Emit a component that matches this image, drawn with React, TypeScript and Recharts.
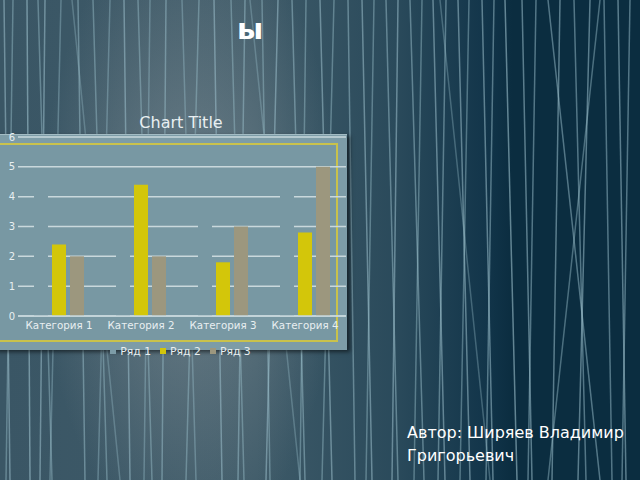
import React from "react";
import { BarChart, Bar, XAxis, YAxis, CartesianGrid, Legend } from "recharts";

// chart values (default spreadsheet demo data)
const categories = ["Категория 1", "Категория 2", "Категория 3", "Категория 4"];
const ryad1 = [4.3, 2.5, 3.5, 4.5];
const ryad2 = [2.4, 4.4, 1.8, 2.8];
const ryad3 = [2, 2, 3, 5];
const yTicks = [0, 1, 2, 3, 4, 5, 6];

const data = categories.map((name, i) => ({
  name,
  r1: ryad1[i],
  r2: ryad2[i],
  r3: ryad3[i],
}));

// background decoration: near-vertical streaks [xTop, xBottom, opacity]
const streaks: [number, number, number][] = [
  [4, 10, 0.45], [13, 6, 0.35], [27, 30, 0.5], [38, 52, 0.35], [45, 40, 0.45], [61, 50, 0.3],
  [78, 85, 0.4], [93, 107, 0.35], [110, 98, 0.3], [124, 130, 0.45], [138, 152, 0.35],
  [150, 144, 0.3], [166, 162, 0.4], [182, 196, 0.3], [199, 186, 0.35], [214, 222, 0.45],
  [231, 244, 0.35], [245, 238, 0.4], [262, 270, 0.35], [278, 266, 0.45], [292, 305, 0.4],
  [306, 300, 0.35], [320, 332, 0.45], [334, 322, 0.35], [348, 355, 0.4], [362, 372, 0.45],
  [374, 366, 0.35], [386, 398, 0.4], [398, 392, 0.45], [410, 424, 0.4], [422, 414, 0.35],
  [433, 445, 0.45], [446, 438, 0.4], [458, 470, 0.45], [469, 460, 0.35], [482, 493, 0.45],
  [494, 486, 0.4], [505, 517, 0.5], [522, 532, 0.45], [536, 528, 0.4], [548, 600, 0.4],
  [560, 552, 0.45], [574, 586, 0.4], [590, 578, 0.45], [604, 612, 0.4], [618, 626, 0.45],
  [630, 622, 0.4], [600, 548, 0.35], [72, 120, 0.25], [250, 300, 0.25], [440, 490, 0.25],
];

const PLOT_BG = "#7898a3";
const OUTER_BG = "#7d9ca7";
const TEXT = "#e8eff1";
const FONT = "'DejaVu Sans', sans-serif";

const colors = [PLOT_BG, "#d3c60a", "#9c977e"];

function LegendRow(props: any) {
  const items = props.payload || [];
  return (
    <div
      style={{
        display: "flex",
        justifyContent: "center",
        alignItems: "center",
        height: 14,
        fontSize: 10.8,
        fontFamily: FONT,
        color: TEXT,
        paddingLeft: 24,
      }}
    >
      {items.map((it: any, i: number) => (
        <span key={i} style={{ display: "flex", alignItems: "center", marginRight: 9 }}>
          <span
            style={{
              width: 6,
              height: 6,
              background: i === 0 ? OUTER_BG : it.color,
              marginRight: 4,
              display: "inline-block",
            }}
          />
          {it.value}
        </span>
      ))}
    </div>
  );
}

export default function App() {
  return (
    <div
      style={{
        position: "fixed",
        left: 0,
        top: 0,
        width: 640,
        height: 480,
        overflow: "hidden",
        fontFamily: FONT,
        background:
          "radial-gradient(ellipse 150px 320px at 190px 230px, rgba(150,160,165,0.55) 0%, rgba(150,160,165,0) 100%), linear-gradient(to right, #3a5665 0%, #3e5a68 40%, #2a4a5b 62%, #12354a 76%, #0b2d40 80%, #0b2d40 100%)",
      }}
    >
      <svg width={640} height={480} style={{ position: "absolute", left: 0, top: 0 }}>
        {streaks.map(([a, b, o], i) => (
          <line key={i} x1={a} y1={0} x2={b} y2={480} stroke="#9cc0cc" strokeOpacity={o + 0.1} strokeWidth={1.5} />
        ))}
      </svg>

      {/* slide title, last line */}
      <div
        style={{
          position: "absolute",
          left: 0,
          top: 12,
          width: 500,
          textAlign: "center",
          color: "#ffffff",
          fontWeight: "bold",
          fontSize: 29,
          lineHeight: "34px",
        }}
      >
        ы
      </div>

      <div
        style={{
          position: "absolute",
          left: 0,
          top: 113,
          width: 362,
          textAlign: "center",
          color: TEXT,
          fontSize: 16,
          lineHeight: "20px",
        }}
      >
        Chart Title
      </div>

      {/* chart area */}
      <div
        style={{
          position: "absolute",
          left: -6,
          top: 134,
          width: 353,
          height: 215,
          background: OUTER_BG,
          boxShadow: "3px 2px 4px rgba(0,0,0,0.55)",
          borderTop: "1px solid #a3bcc4",
        }}
      />
      <div
        style={{
          position: "absolute",
          left: -6,
          top: 143,
          width: 340,
          height: 195,
          background: PLOT_BG,
          border: "2px solid #c9c24c",
        }}
      />

      <div style={{ position: "absolute", left: 0, top: 0 }}>
        <BarChart
          width={360}
          height={360}
          data={data}
          margin={{ top: 137, right: 14, left: 0, bottom: 2 }}
          barSize={14}
          barGap={4}
        >
          <CartesianGrid vertical={false} stroke="#c9d8dc" strokeWidth={1.5} />
          <XAxis
            dataKey="name"
            height={28}
            tickLine={false}
            axisLine={{ stroke: "#c9d8dc", strokeWidth: 1.5 }}
            tick={{ fill: TEXT, fontSize: 10.3, fontFamily: FONT }}
            tickMargin={0}
            interval={0}
          />
          <YAxis
            width={18}
            domain={[0, 6]}
            ticks={yTicks}
            tickLine={false}
            axisLine={false}
            tickSize={0}
            tickMargin={3}
            tick={{ fill: TEXT, fontSize: 10, fontFamily: FONT }}
          />
          <Legend verticalAlign="bottom" content={<LegendRow />} />
          <Bar dataKey="r1" name="Ряд 1" fill={colors[0]} isAnimationActive={false} />
          <Bar dataKey="r2" name="Ряд 2" fill={colors[1]} isAnimationActive={false} />
          <Bar dataKey="r3" name="Ряд 3" fill={colors[2]} isAnimationActive={false} />
        </BarChart>
      </div>

      <div
        style={{
          position: "absolute",
          left: 407,
          top: 421,
          color: "#ffffff",
          fontSize: 16,
          lineHeight: "23px",
          whiteSpace: "nowrap",
        }}
      >
        Автор: Ширяев Владимир
        <br />
        Григорьевич
      </div>
    </div>
  );
}
